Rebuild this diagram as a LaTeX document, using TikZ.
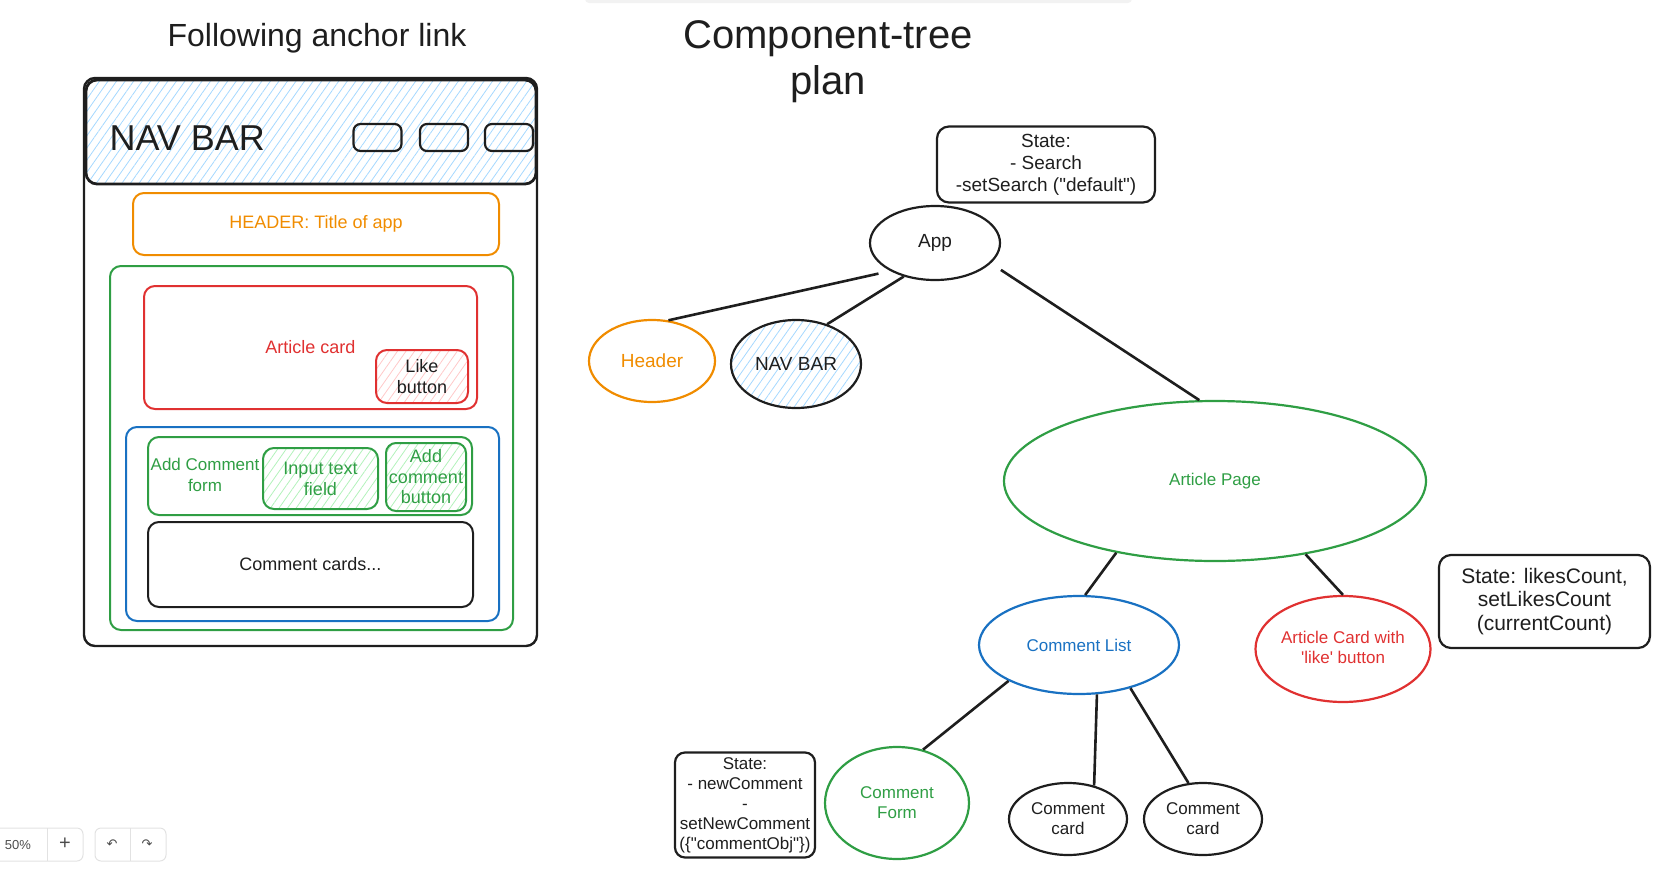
\documentclass[tikz,border=0pt]{standalone}
\usepackage{fontspec}
\setmainfont{Liberation Sans}[Ligatures=TeXOff]
\newfontfamily\symfont{DejaVu Sans}
\usetikzlibrary{shapes.geometric,patterns.meta}

\definecolor{ink}{HTML}{1E1E1E}
\definecolor{orng}{HTML}{F08C00}
\definecolor{grn}{HTML}{2F9E44}
\definecolor{rd}{HTML}{E03131}
\definecolor{blu}{HTML}{1971C2}
\definecolor{bluhatch}{HTML}{A5D8FF}
\definecolor{rdhatch}{HTML}{FFC9C9}
\definecolor{grnhatch}{HTML}{B2F2BB}
\definecolor{uigray}{HTML}{E2E2E2}

\newcommand\fsz[2]{\fontsize{#1}{#2}\selectfont}

\tikzset{
  box/.style={draw=#1, rounded corners=11pt, line width=2pt, inner sep=0pt},
  box/.default=ink,
  hatch/.style={pattern={Lines[angle=55,distance=7pt,line width=0.8pt]}, pattern color=#1},
  comp/.style={ellipse, draw=#1, text=#1, line width=2.2pt, inner sep=0pt, align=center},
  comp/.default=ink,
  statebox/.style={draw=ink, text=ink, rounded corners=12pt, line width=2.2pt, inner sep=0pt, align=center},
  link/.style={draw=ink, line width=2.6pt},
  uibox/.style={draw=uigray, line width=1pt, rounded corners=6pt, inner sep=0pt},
}

\begin{document}
\begin{tikzpicture}[x=1pt,y=-1pt]
  \useasboundingbox (0,0) rectangle (1675,870);

  % shadow of the toolbar above the canvas
  \fill[black!5, rounded corners=4pt] (585,-8) rectangle (1132,3);

  %==========================
  % Left: page mock-up
  %==========================
  \node[font=\fsz{32}{38}, text=ink] (mocktitle) at (317,38) {Following anchor link};

  \node[box, line width=2.4pt, minimum width=453pt, minimum height=568pt] (page) at (310.5,362) {};

  % nav bar with its three buttons
  \node[box, line width=2.8pt, hatch=bluhatch, minimum width=450pt, minimum height=104pt] (navmock) at (311,132) {};
  \node[anchor=base west, font=\fsz{36}{40}, text=ink] (navlabel) at (106,150) {NAV BAR};
  \foreach \bx [count=\i] in {377.5,444,509} {
    \node[box, rounded corners=7pt, line width=2.2pt, minimum width=48pt, minimum height=27pt] (navbtn\i) at (\bx,137.5) {};
  }

  % header
  \node[box=orng, text=orng, font=\fsz{18}{21}, minimum width=366pt, minimum height=62pt] (hdrmock) at (316,224) {HEADER: Title of app};

  % article page
  \node[box=grn, minimum width=403pt, minimum height=364pt] (artmock) at (311.5,448) {};
  \node[box=rd, text=rd, font=\fsz{18}{21}, minimum width=333pt, minimum height=123pt] (cardmock) at (310.5,347.5) {Article card};
  \node[box=rd, hatch=rdhatch, text=ink, align=center, font=\fsz{18}{21}, minimum width=92pt, minimum height=53pt] (likemock) at (422,376.5) {Like\\button};

  % comment list
  \node[box=blu, minimum width=373pt, minimum height=194pt] (listmock) at (312.5,524) {};
  \node[box=grn, minimum width=324pt, minimum height=78pt] (formmock) at (310,476) {};
  \node[text=grn, align=center, font=\fsz{17}{21}] (formlabel) at (205,475) {Add Comment\\form};
  \node[box=grn, hatch=grnhatch, text=grn, align=center, font=\fsz{18}{21}, minimum width=115pt, minimum height=61pt] (inputmock) at (320.5,478.5) {Input text\\field};
  \node[box=grn, rounded corners=10pt, hatch=grnhatch, text=grn, align=center, font=\fsz{18}{20.5}, minimum width=80pt, minimum height=68pt] (addmock) at (426,477) {Add\\comment\\button};
  \node[box, text=ink, font=\fsz{18}{21}, minimum width=325pt, minimum height=85pt] (cardsmock) at (310.5,564.5) {Comment cards...};

  %==========================
  % Right: component tree
  %==========================
  \node[font=\fsz{40}{46}, text=ink, align=center] (treetitle) at (828,62) {Component-tree\\plan};

  \node[comp, font=\fsz{19}{22}, minimum width=130pt, minimum height=74pt] (app) at (935,243) {App};
  \node[comp=orng, font=\fsz{19}{22}, minimum width=126pt, minimum height=82pt] (header) at (652,361) {Header};
  \node[comp, text=ink, hatch=bluhatch, font=\fsz{19}{22}, minimum width=130pt, minimum height=88pt] (navbar) at (796,364) {NAV BAR};
  \node[comp=grn, font=\fsz{17}{20}, minimum width=422pt, minimum height=160pt] (artpage) at (1215,481) {Article Page};
  \node[comp=blu, font=\fsz{17}{20}, minimum width=200pt, minimum height=98pt] (clist) at (1079,645) {Comment List};
  \node[comp=rd, font=\fsz{17}{20}, minimum width=174pt, minimum height=106pt] (acard) at (1343,649) {\raisebox{3pt}{Article Card with}\\\raisebox{3pt}{'like' button}};
  \node[comp=grn, font=\fsz{17}{20}, minimum width=144pt, minimum height=112pt] (cform) at (897,803) {Comment\\Form};
  \node[comp, font=\fsz{17}{20}, minimum width=118pt, minimum height=72pt] (ccardA) at (1068,819) {Comment\\card};
  \node[comp, font=\fsz{17}{20}, minimum width=118pt, minimum height=72pt] (ccardB) at (1203,819) {Comment\\card};

  % state notes
  \node[statebox, font=\fsz{19}{22}, minimum width=218pt, minimum height=76pt] (appstate) at (1046,164.5) {State:\\- Search\\-setSearch ("default")};
  \node[statebox, font=\fsz{21}{23.5}, minimum width=211pt, minimum height=93pt] (likestate) at (1544.5,601.5) {State: likesCount,\\setLikesCount\\(currentCount)};
  \node[statebox, rounded corners=10pt, font=\fsz{17}{20}, minimum width=140pt, minimum height=105pt] (formstate) at (745,805) {State:\\- newComment\\-\\setNewComment\\(\{"commentObj"\})};

  % tree edges
  \draw[link, shorten <=12pt] (app.212) -- (header.68);
  \draw[link, shorten <=12pt] (app.340) -- (artpage.101);
  \foreach \from/\to in {app.227/navbar.52,
                         artpage.216/clist.83, artpage.321/acard.north,
                         clist.207/cform.64, clist.290/ccardA.52, clist.320/ccardB.112} {
    \draw[link] (\from) -- (\to);
  }

  %==========================
  % Zoom / history controls
  %==========================
  \node[uibox, minimum width=89pt, minimum height=33pt] (zoombox) at (38.5,844.5) {};
  \draw[uigray, line width=1pt] (47,828) -- (47,861);
  \node[text=black!70, font=\fsz{13}{15}] (zoomlvl) at (18,845) {50\%};
  \node[text=black!70, font=\fsz{20}{22}] (zoomin) at (65,844) {+};
  \node[uibox, minimum width=71pt, minimum height=33pt] (histbox) at (130.5,844.5) {};
  \draw[uigray, line width=1pt] (130,828) -- (130,861);
  \node[text=black!70, font=\symfont\fsz{13}{15}] (undo) at (112,844) {↶};
  \node[text=black!70, font=\symfont\fsz{13}{15}] (redo) at (147,844) {↷};
\end{tikzpicture}
\end{document}
